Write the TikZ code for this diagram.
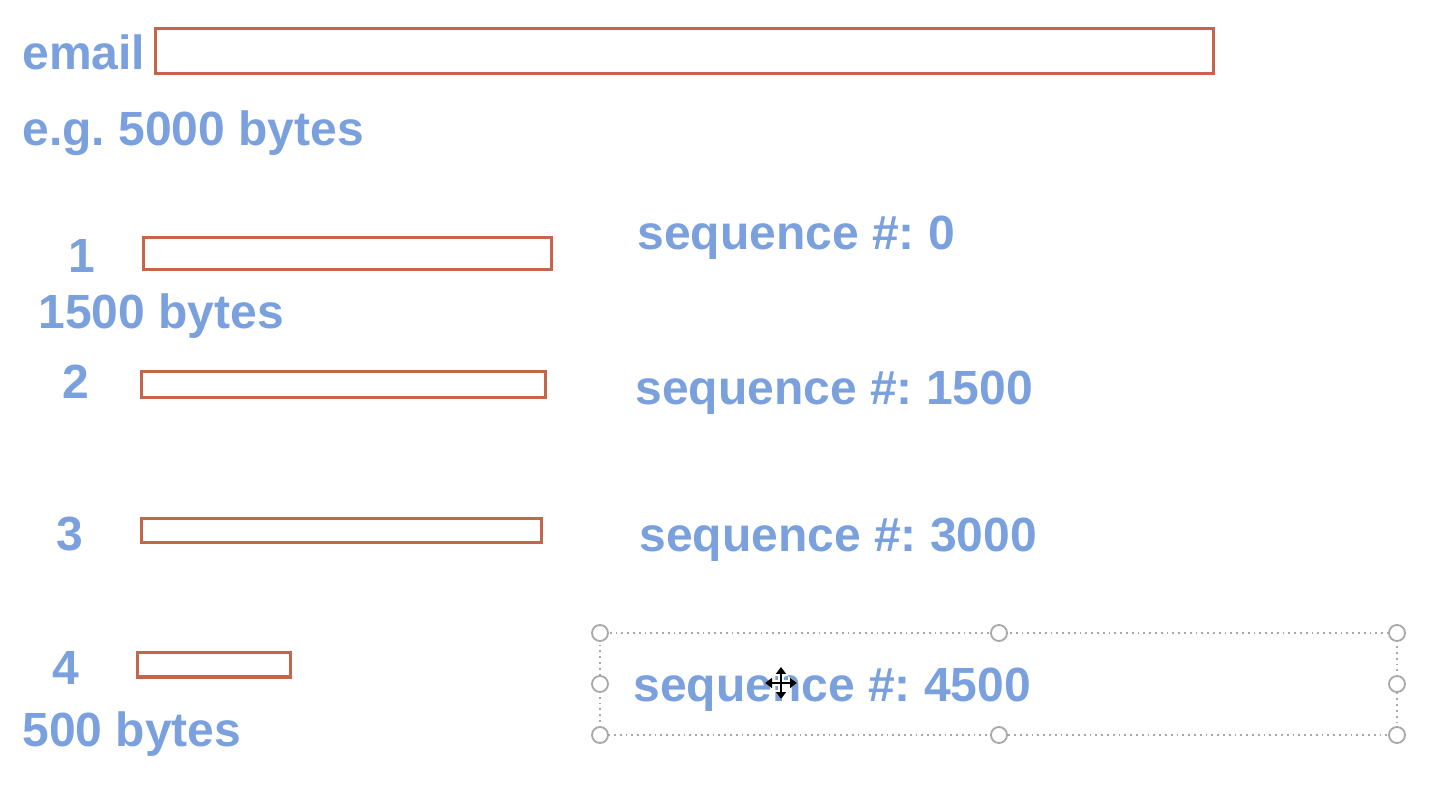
\documentclass[tikz,border=0pt]{standalone}
\usepackage{fontspec}
\setmainfont{Liberation Sans}
\usetikzlibrary{arrows.meta}
\frenchspacing
\definecolor{tblue}{HTML}{7BA0DE}
\definecolor{segred}{HTML}{C5664C}
\definecolor{selgray}{HTML}{A8A8A8}
\tikzset{
  lbl/.style={anchor=base west, inner sep=0pt, text=tblue, font=\bfseries\fontsize{24}{28}\selectfont},
  seg/.style={draw=segred, line width=1.5pt},
  handle/.style={circle, draw=selgray, fill=white, line width=0.9pt, minimum size=8pt, inner sep=0pt},
  selline/.style={draw=selgray, line width=0.9pt, dotted},
  mv/.style={black, line width=1.4pt, -{Triangle[length=3.5pt,width=5pt]}},
  mvw/.style={white, line width=2.6pt, -{Triangle[length=4.5pt,width=6.5pt]}}
}
\begin{document}
\begin{tikzpicture}[x=0.5pt,y=-0.5pt]
\useasboundingbox[fill=white] (0,0) rectangle (1432,786);
% email
\node[lbl] (email) at (22,70) {email};
\draw[seg] (155,29) rectangle (1213,74);
\node[lbl] (eg) at (22,146) {e.g. 5000 bytes};
% segment 1
\node[lbl] (n1) at (68,273) {1};
\draw[seg] (143,238) rectangle (551,270);
\node[lbl] (s1) at (637,250) {sequence \#: 0};
\node[lbl] (b1) at (38,329) {1500 bytes};
% segment 2
\node[lbl] (n2) at (62,399) {2};
\draw[seg] (141,372) rectangle (545,398);
\node[lbl] (s2) at (635,405) {sequence \#: 1500};
% segment 3
\node[lbl] (n3) at (56,551) {3};
\draw[seg] (141,519) rectangle (541,543);
\node[lbl] (s3) at (639,552) {sequence \#: 3000};
% segment 4
\node[lbl] (n4) at (52,684) {4};
\draw[seg] (137,653) rectangle (290,677);
\node[lbl] (b4) at (22,747) {500 bytes};
% selection box
\draw[selline] (600,633) rectangle (1397,735);
\node[lbl] (s4) at (633,701) {sequence \#: 4500};
\foreach \x/\n in {600/a,999/b,1397/c}{
  \node[handle] (t\n) at (\x,633) {};
  \node[handle] (u\n) at (\x,735) {};
}
\node[handle] (ml) at (600,684) {};
\node[handle] (mr) at (1397,684) {};
% move cursor
\coordinate (cur) at (781,683);
\foreach \d in {(0,-16),(0,16),(-16,0),(16,0)}{\draw[mvw] (cur) -- ++\d;}
\foreach \d in {(0,-16),(0,16),(-16,0),(16,0)}{\draw[mv] (cur) -- ++\d;}
\end{tikzpicture}
\end{document}
